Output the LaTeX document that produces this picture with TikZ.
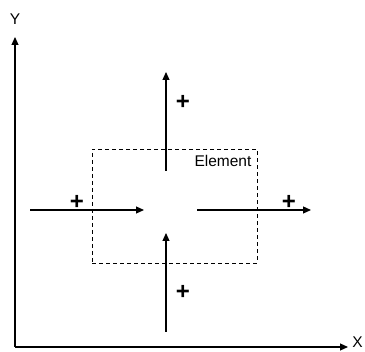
\documentclass[tikz,border=0pt]{standalone}
\usepackage{fontspec}
\setmainfont{Liberation Sans}
\usetikzlibrary{arrows.meta}
\begin{document}
\begin{tikzpicture}[x=1pt,y=-1pt,
  flow/.style={line width=1.2pt,-{Triangle[length=8pt,width=7pt]}},
  elembox/.style={draw,line width=0.9pt,dash pattern=on 4pt off 3pt},
  lbl/.style={font=\fontsize{15.5}{17}\selectfont,inner sep=0pt},
  plus/.style={font=\fontsize{24}{26}\selectfont\bfseries,inner sep=0pt}]
\useasboundingbox (0,0) rectangle (365,352);
% axes
\coordinate (O) at (15,347);
\coordinate (Ytip) at (15,37);
\coordinate (Xtip) at (348,347);
\draw[flow] (O) -- (Ytip);
\draw[flow] (O) -- (Xtip);
\node[lbl] (ylab) at (15,19) {Y};
\node[lbl,anchor=base east] (xlab) at (363,347.5) {X};
% element box
\node[elembox,minimum width=165pt,minimum height=114pt,inner sep=0pt] (elem) at (174.5,206) {};
\node[lbl] (elabel) at (223,161) {Element};
% flux arrows
\coordinate (Lstart) at (30,210);
\coordinate (Lend) at (144,210);
\coordinate (Rstart) at (197,210);
\coordinate (Rend) at (311,210);
\coordinate (Tstart) at (166,171);
\coordinate (Tend) at (166,72);
\coordinate (Bstart) at (166,332);
\coordinate (Bend) at (166,233);
\draw[flow] (Lstart) -- (Lend);
\draw[flow] (Rstart) -- (Rend);
\draw[flow] (Tstart) -- (Tend);
\draw[flow] (Bstart) -- (Bend);
% signs
\node[plus] (pl) at (77,202) {+};
\node[plus] (pr) at (289,202) {+};
\node[plus] (pt) at (183,102) {+};
\node[plus] (pb) at (183,292) {+};
\end{tikzpicture}
\end{document}
